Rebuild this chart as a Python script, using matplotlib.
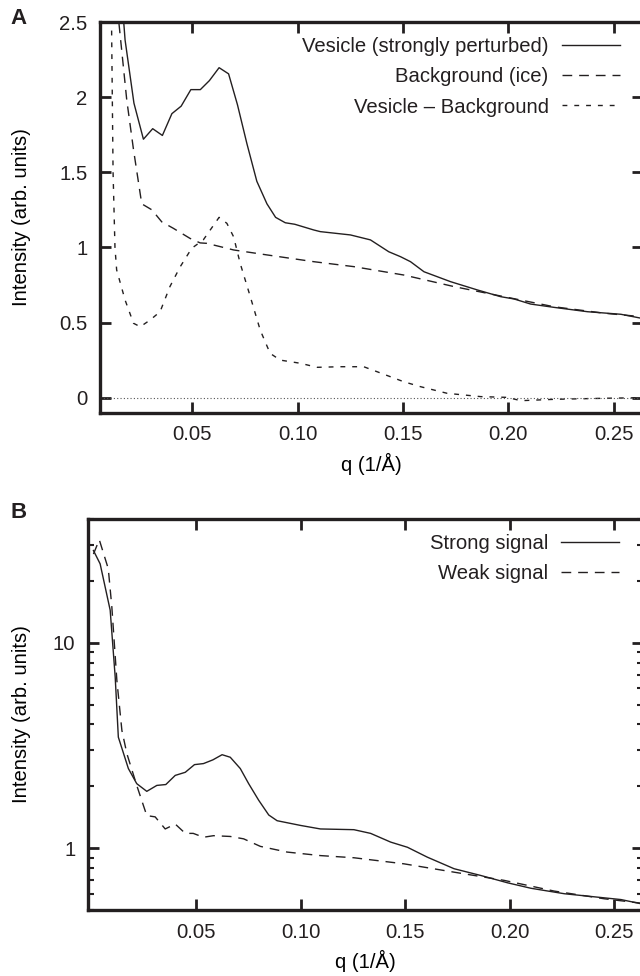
import matplotlib
matplotlib.use("Agg")
import matplotlib.pyplot as plt
from matplotlib.ticker import FormatStrFormatter, LogLocator, NullFormatter, FixedLocator

plt.rcParams['font.family'] = ['Liberation Sans', 'DejaVu Sans']
plt.rcParams['text.color'] = '#231f20'
fs = 14.6

# panel A data
qa_ves = [0.0170, 0.0182, 0.0224, 0.0269, 0.0313, 0.0359, 0.0404, 0.0448, 0.0494, 0.0539,
          0.0582, 0.0628, 0.0673, 0.0715, 0.0760, 0.0807, 0.0855, 0.0896, 0.0942, 0.0987,
          0.1077, 0.1108, 0.1251, 0.1346, 0.1433, 0.1489, 0.1536, 0.1600, 0.1726, 0.1853,
          0.1964, 0.2027, 0.2106, 0.2217, 0.2376, 0.2534, 0.2640]
ia_ves = [2.60, 2.38, 1.96, 1.72, 1.79, 1.745, 1.89, 1.94, 2.05, 2.05,
          2.11, 2.196, 2.155, 1.95, 1.69, 1.44, 1.29, 1.20, 1.164, 1.154,
          1.116, 1.105, 1.083, 1.05, 0.971, 0.938, 0.905, 0.838, 0.772, 0.717,
          0.672, 0.657, 0.623, 0.601, 0.572, 0.555, 0.526]

qa_bg = [0.0145, 0.0190, 0.0222, 0.0261, 0.0309, 0.0356, 0.0411, 0.0490, 0.0538, 0.0570,
         0.0697, 0.0855, 0.1077, 0.1267, 0.1505, 0.1743, 0.1980, 0.2217, 0.2455, 0.2640]
ia_bg = [2.60, 1.98, 1.65, 1.29, 1.25, 1.17, 1.127, 1.06, 1.03, 1.027,
         0.983, 0.95, 0.905, 0.872, 0.816, 0.739, 0.672, 0.605, 0.562, 0.538]

qa_diff = [0.0117, 0.0125, 0.0134, 0.0142, 0.0182, 0.0222, 0.0254, 0.0301, 0.0348, 0.0395,
           0.0443, 0.0498, 0.0553, 0.0628, 0.0665, 0.0697, 0.0728, 0.0776, 0.0823, 0.0870,
           0.0918, 0.1013, 0.1093, 0.1203, 0.1314, 0.1377, 0.1504, 0.1584, 0.1710, 0.1869,
           0.1995, 0.2059, 0.2218, 0.2455, 0.2640]
ia_diff = [2.60, 1.50, 1.00, 0.85, 0.65, 0.495, 0.472, 0.517, 0.572, 0.74,
           0.87, 0.994, 1.05, 1.20, 1.16, 1.07, 0.894, 0.672, 0.45, 0.295,
           0.25, 0.229, 0.202, 0.206, 0.206, 0.173, 0.106, 0.073, 0.029, 0.007,
           0.002, -0.02, -0.011, -0.004, 0.0]

# panel B data
qb_strong = [0.0010, 0.0042, 0.0090, 0.0114, 0.0129, 0.0177, 0.0217, 0.0265, 0.0313, 0.0356,
             0.0401, 0.0449, 0.0493, 0.0536, 0.0581, 0.0625, 0.0664, 0.0712, 0.0752, 0.0800,
             0.0848, 0.0888, 0.1000, 0.1095, 0.1255, 0.1335, 0.1431, 0.1511, 0.1606, 0.1734,
             0.1862, 0.1990, 0.2101, 0.2261, 0.2373, 0.2532, 0.2640]
ib_strong = [28.1, 24.2, 14.4, 6.8, 3.47, 2.44, 2.06, 1.89, 2.02, 2.04,
             2.26, 2.34, 2.55, 2.58, 2.69, 2.85, 2.77, 2.44, 2.06, 1.71,
             1.45, 1.36, 1.29, 1.24, 1.23, 1.18, 1.07, 1.01, 0.904, 0.794,
             0.736, 0.678, 0.638, 0.600, 0.584, 0.562, 0.533]

qb_weak = [0.0010, 0.0038, 0.0081, 0.0098, 0.0122, 0.0146, 0.0170, 0.0217, 0.0265, 0.0305,
           0.0353, 0.0401, 0.0449, 0.0487, 0.0536, 0.0584, 0.0664, 0.0728, 0.0808, 0.0936,
           0.1095, 0.1255, 0.1494, 0.1734, 0.1973, 0.2213, 0.2452, 0.2640]
ib_weak = [27.0, 31.7, 22.9, 14.9, 6.55, 3.74, 2.88, 2.02, 1.44, 1.42,
           1.24, 1.31, 1.18, 1.18, 1.13, 1.15, 1.14, 1.11, 1.02, 0.957,
           0.92, 0.898, 0.839, 0.764, 0.697, 0.618, 0.567, 0.538]

ink = '#231f20'
W, H = 640, 976
fig = plt.figure(figsize=(6.4, 9.76), dpi=100)

axA = fig.add_axes([100 / W, 1 - 412.7 / H, (643 - 100) / W, (412.7 - 22) / H])
axB = fig.add_axes([88 / W, 1 - 910 / H, (643 - 88) / W, (910 - 519) / H])

lw = 1.0
axA.plot(qa_ves, ia_ves, color=ink, lw=lw, label='Vesicle (strongly perturbed)')
axA.plot(qa_bg, ia_bg, color=ink, lw=lw, dashes=(7, 5), label='Background (ice)')
axA.plot(qa_diff, ia_diff, color=ink, lw=lw, dashes=(3.5, 5), label='Vesicle \u2013 Background')
axA.axhline(0, color='#555555', lw=0.8, ls=(0, (1, 2)))
axA.set_xlim(0.0063, 0.2639)
axA.set_ylim(-0.1, 2.5)
axA.set_yticks([0, 0.5, 1, 1.5, 2, 2.5])
axA.yaxis.set_major_formatter(FormatStrFormatter('%g'))

axB.plot(qb_strong, ib_strong, color=ink, lw=lw, label='Strong signal')
axB.plot(qb_weak, ib_weak, color=ink, lw=lw, dashes=(7, 5), label='Weak signal')
axB.set_yscale('log')
axB.set_xlim(-0.0016, 0.2637)
axB.set_ylim(0.5, 40)
axB.yaxis.set_major_locator(FixedLocator([1, 10]))
axB.yaxis.set_major_formatter(FormatStrFormatter('%g'))
axB.yaxis.set_minor_locator(LogLocator(base=10, subs=[2, 3, 4, 5, 6, 7, 8, 9]))
axB.yaxis.set_minor_formatter(NullFormatter())

for ax in (axA, axB):
    ax.set_xticks([0.05, 0.10, 0.15, 0.20, 0.25])
    ax.xaxis.set_major_formatter(FormatStrFormatter('%.2f'))
    for s in ax.spines.values():
        s.set_linewidth(2.4)
        s.set_color(ink)
    ax.tick_params(which='major', direction='in', length=8, width=2, top=True, right=True,
                   colors=ink, labelsize=fs, pad=9)
    ax.tick_params(which='minor', direction='in', length=4, width=1.5, right=True, colors=ink)
    ax.set_xlabel('q (1/\u00c5)', fontsize=fs, labelpad=6)
    ax.set_ylabel('Intensity (arb. units)', fontsize=fs)
    ax.legend(loc='upper right', bbox_to_anchor=(0.985, 1.0), frameon=False, markerfirst=False,
              handlelength=2.86, handletextpad=0.64, labelspacing=0.55, fontsize=fs,
              borderaxespad=0.35)

axA.yaxis.set_label_coords(-(100 - 31) / 543, 0.5)
axB.yaxis.set_label_coords(-(88 - 31) / 555, 0.5)

fig.text(10 / W, 1 - 18 / H, 'A', fontsize=16, fontweight='bold', va='center', ha='left')
fig.text(10 / W, 1 - 513 / H, 'B', fontsize=16, fontweight='bold', va='center', ha='left')

fig.savefig('out.png', dpi=100)
